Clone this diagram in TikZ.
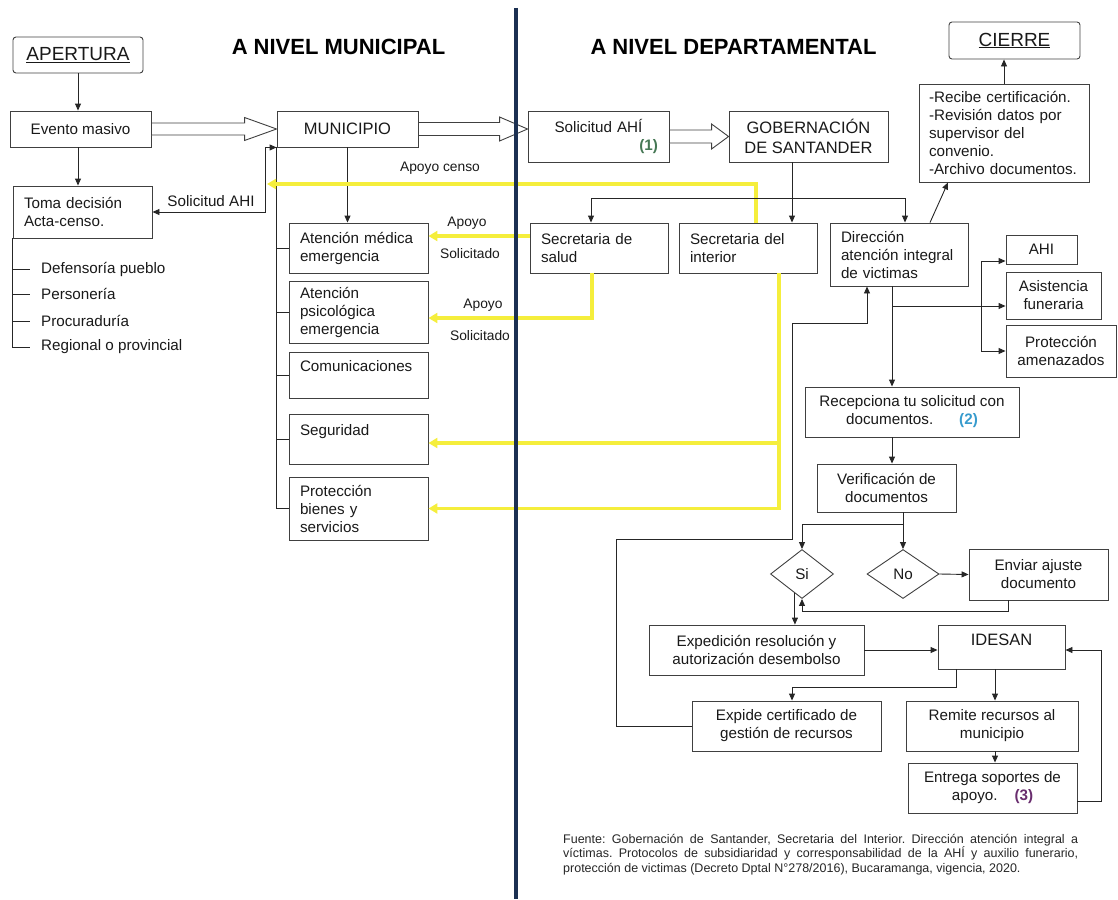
\documentclass[tikz,border=0pt]{standalone}
\usepackage{fontspec}
\setmainfont{Liberation Sans}
\usetikzlibrary{arrows.meta,calc,shapes.geometric}

\definecolor{amarillo}{RGB}{245,238,60}
\definecolor{azuloscuro}{RGB}{28,48,82}
\definecolor{verdenum}{RGB}{70,120,85}
\definecolor{azulnum}{RGB}{55,155,205}
\definecolor{moradonum}{RGB}{105,45,110}

\newcommand\txtbody{\fontsize{15.2}{18}\selectfont}
\newcommand\txtcaps{\fontsize{16.5}{19.5}\selectfont}
\newcommand\txtbig{\fontsize{19}{22}\selectfont}
\newcommand\txtsmall{\fontsize{13.8}{16}\selectfont}
\newcommand\txttitle{\fontsize{22}{26}\selectfont\bfseries}

\tikzset{
    mybox/.style={draw=black!75,line width=0.9pt,inner sep=0pt,align=center,text=black!90,font=\txtbody},
    myleft/.style={mybox,align=left,inner xsep=11pt,text width=#1},
    mydiamond/.style={diamond,mybox},
    mylabel/.style={inner sep=0pt,text=black!90,font=\txtbody},
    mytitle/.style={inner sep=0pt,font=\txttitle},
    myline/.style={line width=0.9pt,draw=black!85},
    myarrow/.style={myline,-{Triangle[length=7pt,width=6pt]}},
    mydouble/.style={myline,{Triangle[length=7pt,width=6pt]}-{Triangle[length=7pt,width=6pt]}},
    myyellow/.style={draw=amarillo,line width=3.5pt,-{Triangle[length=9pt,width=10pt]}},
    myhollow/.style={draw=black!75,line width=0.9pt,fill=white}
}

\begin{document}
\begin{tikzpicture}[x=1pt,y=-1pt]
  \useasboundingbox (0,0) rectangle (1118,899);

  % titulos
  \node[mytitle] (tmun) at (338.5,47) {A NIVEL MUNICIPAL};
  \node[mytitle] (tdep) at (733.5,47) {A NIVEL DEPARTAMENTAL};

  % nivel municipal
  \node[mybox,rounded corners=3pt,minimum width=130pt,minimum height=36pt,font=\txtbig]
    (apertura) at (78,55) {\underline{APERTURA}};
  \node[mybox,minimum width=141pt,minimum height=36pt] (evento) at (80.5,129) {Evento masivo};
  \node[mybox,minimum width=141pt,minimum height=36pt,font=\txtcaps] (muni) at (347.5,129) {MUNICIPIO};
  \node[myleft=117pt,minimum height=52pt] (toma) at (82.5,212) {Toma decisión\\Acta-censo.};

  \foreach \t/\y/\n in {Defensoría pueblo/269/def,Personería/294/pers,Procuraduría/321/proc,Regional o provincial/347/reg}{
    \node[mylabel,anchor=west] (\n) at (41,\y) {\t};
  }

  \node[myleft=117pt,minimum height=50pt] (medica) at (358.5,248) {Atención médica\\emergencia};
  \node[myleft=117pt,minimum height=62pt] (psico) at (358.5,312) {Atención\\psicológica\\emergencia};
  \node[myleft=117pt,minimum height=46pt] (comun) at (358.5,375) {Comunicaciones\\\mbox{}};
  \node[myleft=117pt,minimum height=50pt] (segur) at (358.5,439) {Seguridad\\\mbox{}};
  \node[myleft=117pt,minimum height=63pt] (protb) at (358.5,508.5) {Protección\\bienes y\\servicios};

  \node[mylabel] (lsol) at (211,201) {Solicitud AHI};
  \node[mylabel,font=\txtsmall] (lcenso) at (440,168) {Apoyo censo};
  \node[mylabel,font=\txtsmall] (ap1) at (467,223) {Apoyo};
  \node[mylabel,font=\txtsmall] (sol1) at (470,254) {Solicitado};
  \node[mylabel,font=\txtsmall] (ap2) at (483,305) {Apoyo};
  \node[mylabel,font=\txtsmall] (sol2) at (480,336) {Solicitado};

  % nivel departamental
  \node[mybox,minimum width=141pt,minimum height=51pt,text width=119pt]
    (solic) at (598.5,136.5) {Solicitud AHÍ\\\hfill{\color{verdenum}\bfseries(1)}};
  \node[mybox,minimum width=159pt,minimum height=51pt,font=\txtcaps] (gob) at (808.5,136.5) {GOBERNACIÓN\\DE SANTANDER};
  \node[mybox,rounded corners=3pt,minimum width=131pt,minimum height=37pt,font=\txtbig]
    (cierre) at (1014.5,40.5) {\underline{CIERRE}};
  \node[myleft=150pt,inner xsep=10pt,minimum height=98pt] (recibe) at (1004,133)
    {-Recibe certificación.\\-Revisión datos por\\supervisor del\\convenio.\\-Archivo documentos.};

  \node[myleft=116pt,minimum height=50pt] (salud) at (599,248) {Secretaria de\\salud};
  \node[myleft=116pt,minimum height=50pt] (inter) at (748,248) {Secretaria del\\interior};
  \node[myleft=116pt,minimum height=63pt] (direc) at (899,254.5) {Dirección\\atención integral\\de victimas};

  \node[mybox,minimum width=71pt,minimum height=29pt] (ahi) at (1041.5,249.5) {AHI};
  \node[mybox,minimum width=95pt,minimum height=47pt] (asist) at (1053.5,295.5) {Asistencia\\funeraria};
  \node[mybox,minimum width=110pt,minimum height=52pt] (prota) at (1061,351) {Protección\\amenazados};

  \node[mybox,minimum width=214pt,minimum height=50pt] (recep) at (912,412)
    {Recepciona tu solicitud con\\documentos.\hspace*{26pt}{\color{azulnum}\bfseries(2)}};
  \node[mybox,minimum width=139pt,minimum height=48pt] (verif) at (886.5,488) {Verificación de\\documentos};
  \node[mydiamond,minimum width=63pt,minimum height=49pt] (si) at (802,574) {Si};
  \node[mydiamond,minimum width=72pt,minimum height=49pt] (no) at (903,574) {No};
  \node[mybox,minimum width=139pt,minimum height=51pt] (enviar) at (1038.5,574.5) {Enviar ajuste\\documento};
  \node[mybox,minimum width=215pt,minimum height=50pt] (exped) at (756.5,650) {Expedición resolución y\\autorización desembolso};
  \node[mybox,minimum width=127pt,minimum height=44pt,font=\txtcaps] (idesan) at (1001.5,647) {IDESAN\\[-4pt]\mbox{}};
  \node[mybox,minimum width=189pt,minimum height=50pt] (expide) at (786.5,726) {Expide certificado de\\gestión de recursos};
  \node[mybox,minimum width=172pt,minimum height=50pt] (remite) at (992,726) {Remite recursos al\\municipio};
  \node[mybox,minimum width=169pt,minimum height=50pt] (entrega) at (992.5,788)
    {Entrega soportes de\\apoyo.\hspace*{17pt}{\color{moradonum}\bfseries(3)}};

  % fuente
  \node[anchor=north west,inner sep=0pt,text width=515pt,align=justify,text=black!85,
    font=\fontsize{12.5}{14.5}\selectfont\frenchspacing] (fuente) at (563,834)
    {Fuente: Gobernación de Santander, Secretaria del Interior. Dirección atención integral a\linebreak
     víctimas. Protocolos de subsidiaridad y corresponsabilidad de la AHÍ y auxilio funerario,\linebreak
     protección de victimas (Decreto Dptal N°278/2016), Bucaramanga, vigencia, 2020.};

  % flechas huecas
  \foreach \a/\b/\l/\t/\h in {evento/muni/32/6/11.5,muni/solic/28/6.5/12,solic/gob/17/6.5/12.5}{
    \coordinate (tip) at (\a.east -| \b.west);
    \draw[myhollow] ($(\a.east)+(0,-\t)$) -- ($(tip)+(-\l,-\t)$) -- ($(tip)+(-\l,-\h)$) -- (tip)
      -- ($(tip)+(-\l,\h)$) -- ($(tip)+(-\l,\t)$) -- ($(\a.east)+(0,\t)$) -- cycle;
  }

  % conectores municipales
  \draw[myarrow] (apertura.south) -- (apertura.south |- evento.north);
  \draw[myarrow] (evento.south -| apertura.south) -- (toma.north -| apertura.south);
  \draw[mydouble] (toma.east) -| ([xshift=-11pt]muni.south west) -- (muni.south west);
  \draw[myarrow] (muni.south) -- (muni.south |- medica.north);
  \draw[myline] (muni.south west) |- (protb.west);
  \foreach \n in {medica,psico,comun,segur}{
    \draw[myline] (muni.south west |- \n.west) -- (\n.west);
  }
  \draw[myline] (toma.south west) |- ([xshift=-11pt]reg.west);
  \foreach \n in {def,pers,proc}{
    \draw[myline] (toma.south west |- \n.west) -- ([xshift=-11pt]\n.west);
  }

  % apoyos (amarillo)
  \coordinate (censo) at (267,184);
  \coordinate (jy) at (779,443);
  \draw[myyellow] ([xshift=8pt]inter.north) |- (censo);
  \draw[myyellow] ([yshift=12pt]salud.west) -- ([yshift=12pt]medica.east);
  \draw[myyellow] ([xshift=-7pt]salud.south) |- ([yshift=-6pt]psico.east);
  \draw[myyellow] ([xshift=31pt]inter.south) |- (protb.east);
  \draw[myyellow] (jy) -- (jy -| segur.east);

  % gobernacion
  \coordinate (rama) at (792,198);
  \draw[myarrow] (gob.south -| rama) -- (inter.north -| rama);
  \draw[myarrow] (rama) -| ([xshift=-8pt]salud.north);
  \draw[myarrow] (rama) -| ([xshift=6pt]direc.north);

  % direccion
  \coordinate (jd) at (892,306);
  \coordinate (ja) at (981,261);
  \coordinate (jp) at (981,351);
  \draw[myarrow] (direc.south -| jd) -- (recep.north -| jd);
  \draw[myarrow] (jd) -- (jd -| asist.west);
  \draw[mydouble] (ja -| ahi.west) -- (ja) -- (jp) -- (jp -| prota.west);
  \draw[myarrow] ([xshift=31pt]direc.north) -- ([xshift=-56pt]recibe.south);
  \draw[myarrow] (recibe.north) -- (recibe.north |- cierre.south);

  % verificacion
  \coordinate (jv) at (903,524);
  \coordinate (jr) at (802,611);
  \draw[myarrow] (recep.south -| jd) -- (verif.north -| jd);
  \draw[myline] (verif.south -| jv) -- (jv);
  \draw[myarrow] (jv) -| (si.north);
  \draw[myarrow] (jv) -- (no.north);
  \draw[myarrow] (no.east) -- (enviar.west);
  \draw[myarrow] ([xshift=-30pt]enviar.south) |- (jr) -- (si.south);
  \draw[myarrow] (si.250) -- (si.250 |- exped.north);

  % idesan
  \coordinate (ji) at (956,687);
  \coordinate (jm) at (995,0);
  \coordinate (je) at (1101,650);
  \draw[myarrow] (exped.east) -- (exped.east -| idesan.west);
  \draw[myarrow] (idesan.south -| ji) -- (ji) -| ([xshift=5.5pt]expide.north);
  \draw[myarrow] (idesan.south -| jm) -- (remite.north -| jm);
  \draw[myarrow] (remite.south -| jm) -- (entrega.north -| jm);
  \draw[myarrow] ([yshift=-13pt]entrega.east) -| (je) -- (je -| idesan.east);

  % retorno a direccion
  \coordinate (r1) at (616,539);
  \coordinate (r2) at (792,323);
  \draw[myarrow] (expide.west) -| (r1) -| (r2) -| ([xshift=-32pt]direc.south);

  % linea divisoria
  \draw[azuloscuro,line width=4pt] (516,8) -- (516,899);
\end{tikzpicture}
\end{document}
